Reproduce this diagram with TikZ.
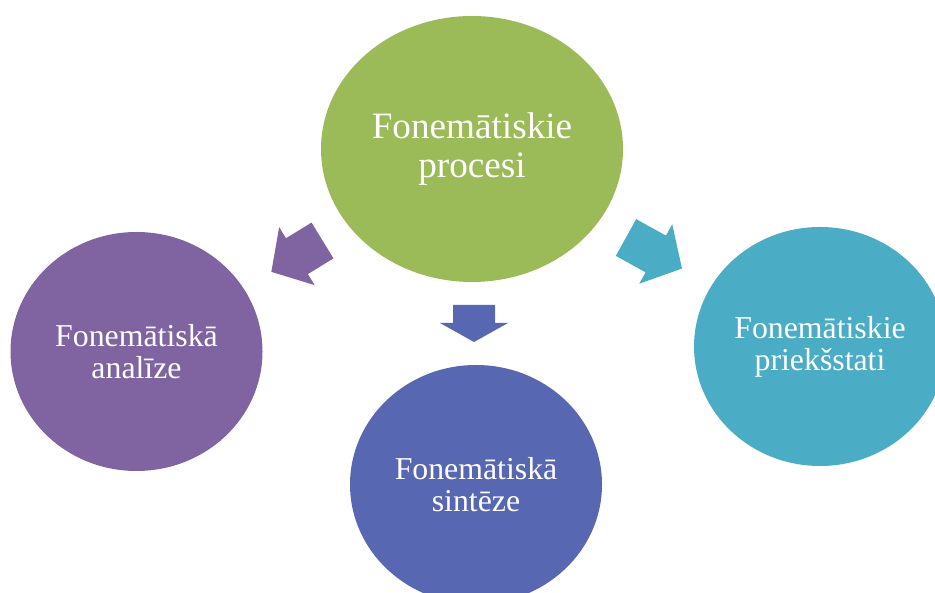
\documentclass[tikz,border=0pt]{standalone}
\usepackage{fontspec}
\setmainfont{Liberation Serif}
\usepackage{tikz}
\usetikzlibrary{shapes.geometric}
\definecolor{procgreen}{HTML}{9BBB59}
\definecolor{anpurple}{HTML}{8064A2}
\definecolor{sinblue}{RGB}{88,103,178}
\definecolor{prteal}{HTML}{4BACC6}
\tikzset{bubble/.style = {ellipse, inner sep=0pt, text=white, align=center,
                          minimum width=126pt, minimum height=119.5pt,
                          font=\fontsize{15.9}{16}\selectfont}}
\tikzset{blockarrow/.pic = {\fill (0,-21) -- (#1,-21) -- (#1,-34) -- (#1+30,0)
                                  -- (#1,34) -- (#1,21) -- (0,21) -- cycle;}}
\tikzset{shortarrow/.pic = {\fill (0,-21) -- (18,-21) -- (18,-34) -- (37,0)
                                  -- (18,34) -- (18,21) -- (0,21) -- cycle;}}

\begin{document}
\begin{tikzpicture}[x=0.5pt, y=0.5pt]
    \clip (0, 0) rectangle (935, 593);
    \node [bubble, fill=procgreen, minimum width=151pt, minimum height=133pt,
           font=\fontsize{18.6}{19.4}\selectfont] (procesi) at (472, 444)
          {Fonemātiskie\\procesi};
    \node [bubble, fill=anpurple] (analize) at (136.5, 241.5) {Fonemātiskā\\analīze};
    \node [bubble, fill=sinblue] (sinteze) at (476, 108.5) {Fonemātiskā\\sintēze};
    \node [bubble, fill=prteal] (priekstati) at (820, 246.5) {Fonemātiskie\\priekšstati};
    \pic [fill=anpurple, rotate=211.5] at (322.5, 352.5) {blockarrow=30};
    \pic [fill=sinblue, rotate=-90] at (474, 288) {shortarrow};
    \pic [fill=prteal, rotate=-29] at (626, 355.5) {blockarrow=34};
\end{tikzpicture}
\end{document}
